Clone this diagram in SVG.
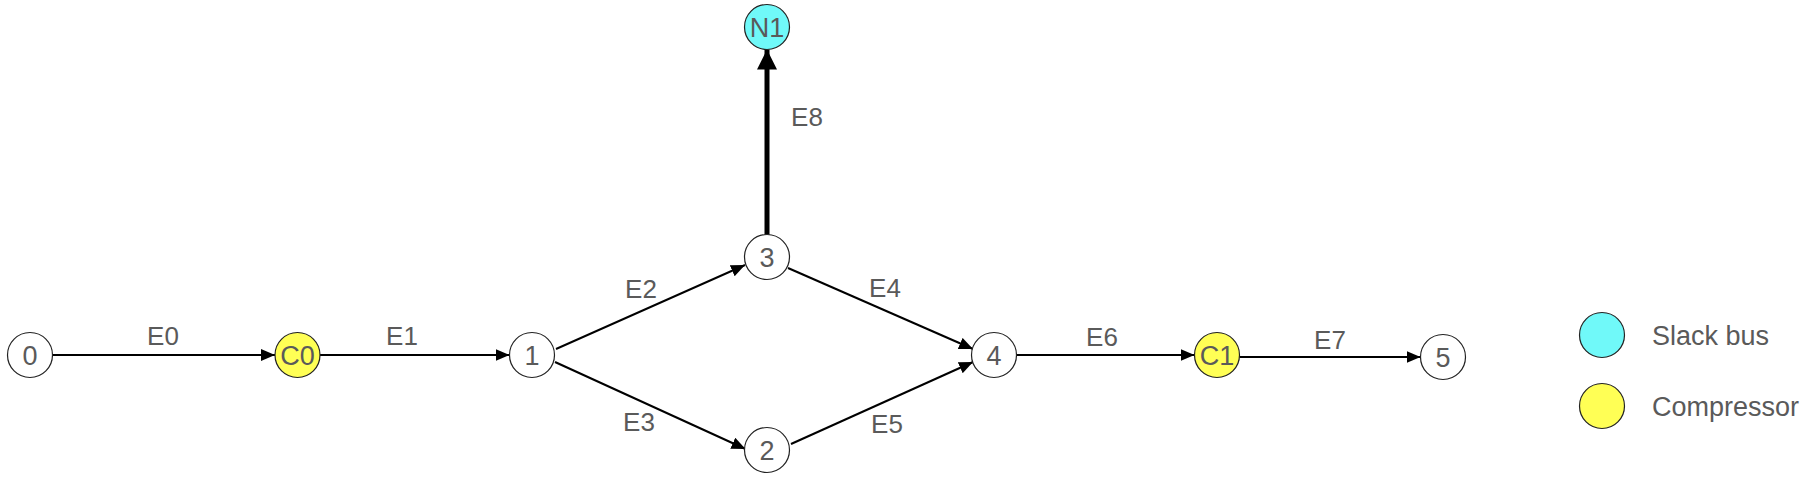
<svg xmlns="http://www.w3.org/2000/svg" width="1808" height="479" viewBox="0 0 1808 479">
<style>
.node{fill:#ffffff;stroke:#222222;stroke-width:1.2}
.comp{fill:#ffff55}
.slack{fill:#70f9f9}
.nt{font-family:"Liberation Sans",Arial,sans-serif;font-size:27px;fill:#5a5a5a;text-anchor:middle}
.el{font-family:"Liberation Sans",Arial,sans-serif;font-size:26px;fill:#5a5a5a;text-anchor:middle}
.lt{font-family:"Liberation Sans",Arial,sans-serif;font-size:27px;fill:#5a5a5a}
.edge{stroke:#000000;stroke-width:2;fill:none}
.thick{stroke:#000000;stroke-width:5;fill:none}
</style>
<defs>
<marker id="arr" markerUnits="userSpaceOnUse" markerWidth="16" markerHeight="14" refX="14" refY="6" orient="auto">
<path d="M0,0 L14,6 L0,12 Z" fill="#000"/>
</marker>
<marker id="arrB" markerUnits="userSpaceOnUse" markerWidth="22" markerHeight="22" refX="20" refY="10" orient="auto">
<path d="M0,0 L20,10 L0,20 Z" fill="#000"/>
</marker>
</defs>
<rect width="1808" height="479" fill="#ffffff"/>
<g id="connectors">
<line class="edge" x1="52.5" y1="355" x2="275" y2="355" marker-end="url(#arr)"/>
<line class="edge" x1="320" y1="355" x2="509.5" y2="355" marker-end="url(#arr)"/>
<line class="edge" x1="556" y1="349" x2="745" y2="265" marker-end="url(#arr)"/>
<line class="edge" x1="555" y1="362" x2="745.5" y2="449" marker-end="url(#arr)"/>
<line class="edge" x1="788" y1="268" x2="973" y2="349" marker-end="url(#arr)"/>
<line class="edge" x1="791" y1="444" x2="973" y2="362" marker-end="url(#arr)"/>
<line class="edge" x1="1016.5" y1="355" x2="1194.5" y2="355" marker-end="url(#arr)"/>
<line class="edge" x1="1239.5" y1="357" x2="1420.5" y2="357" marker-end="url(#arr)"/>
<line class="thick" x1="767" y1="235" x2="767" y2="49.5" marker-end="url(#arrB)"/>
<text class="el" x="163" y="345">E0</text>
<text class="el" x="402" y="345">E1</text>
<text class="el" x="641" y="298">E2</text>
<text class="el" x="639" y="431">E3</text>
<text class="el" x="885" y="297">E4</text>
<text class="el" x="887" y="433">E5</text>
<text class="el" x="1102" y="346">E6</text>
<text class="el" x="1330" y="349">E7</text>
<text class="el" x="807" y="126">E8</text>
</g>
<g id="n0"><circle class="node" cx="30" cy="355" r="22.5"/><text class="nt" x="30" y="364.5">0</text></g>
<g id="c0"><circle class="node comp" cx="297.5" cy="355" r="22.5"/><text class="nt" x="297.5" y="364.5">C0</text></g>
<g id="n1"><circle class="node" cx="532" cy="355" r="22.5"/><text class="nt" x="532" y="364.5">1</text></g>
<g id="n3"><circle class="node" cx="767" cy="257" r="22.5"/><text class="nt" x="767" y="266.5">3</text></g>
<g id="n2"><circle class="node" cx="767" cy="450" r="22.5"/><text class="nt" x="767" y="459.5">2</text></g>
<g id="n4"><circle class="node" cx="994" cy="355" r="22.5"/><text class="nt" x="994" y="364.5">4</text></g>
<g id="c1"><circle class="node comp" cx="1217" cy="355" r="22.5"/><text class="nt" x="1217" y="364.5">C1</text></g>
<g id="n5"><circle class="node" cx="1443" cy="357" r="22.5"/><text class="nt" x="1443" y="366.5">5</text></g>
<g id="N1"><circle class="node slack" cx="767" cy="27" r="22.5"/><text class="nt" x="767" y="36.5">N1</text></g>
<g id="legend-slack"><circle class="node slack" cx="1602" cy="335" r="22.5"/><text class="lt" x="1652" y="345">Slack bus</text></g>
<g id="legend-compressor"><circle class="node comp" cx="1602" cy="406" r="22.5"/><text class="lt" x="1652" y="416">Compressor</text></g>
</svg>
